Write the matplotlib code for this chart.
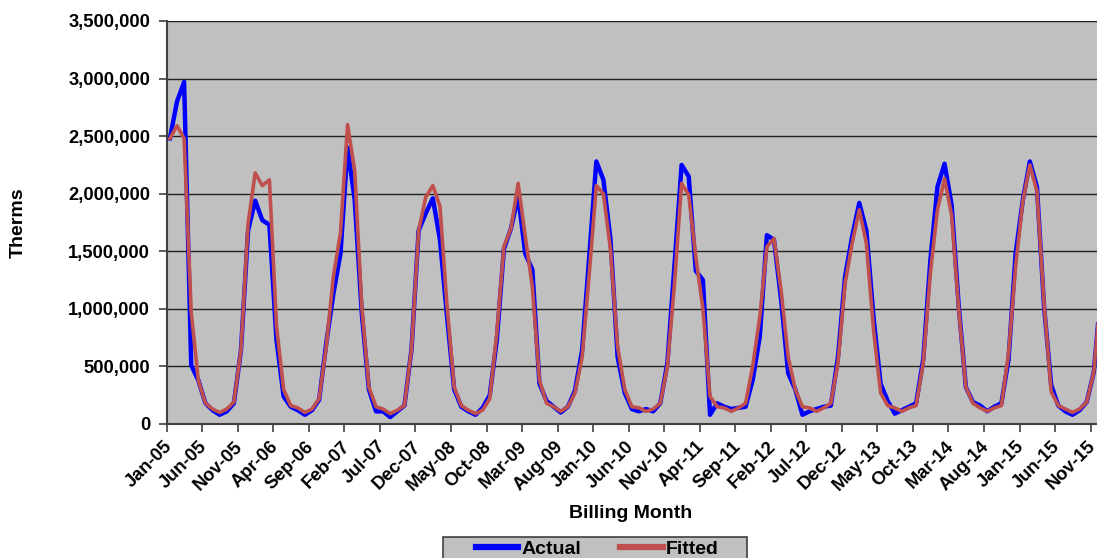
import matplotlib
matplotlib.use("Agg")
import matplotlib.pyplot as plt
from matplotlib.ticker import FuncFormatter, MultipleLocator
from matplotlib.patches import Rectangle
from matplotlib.transforms import ScaledTranslation
import numpy as np

# Monthly billing data, Jan-05 .. Dec-15 (therms)
actual = [2480000, 2800000, 2970000, 510000, 380000, 180000, 120000, 80000, 110000, 180000, 640000, 1680000,
          1940000, 1770000, 1730000, 730000, 240000, 150000, 120000, 80000, 120000, 210000, 700000, 1130000,
          1480000, 2400000, 1950000, 960000, 300000, 110000, 110000, 60000, 110000, 160000, 650000, 1680000,
          1830000, 1960000, 1600000, 930000, 300000, 150000, 110000, 80000, 140000, 250000, 730000, 1520000,
          1700000, 1980000, 1480000, 1340000, 350000, 200000, 150000, 100000, 150000, 290000, 640000, 1450000,
          2280000, 2120000, 1600000, 580000, 270000, 130000, 110000, 130000, 110000, 180000, 530000, 1380000,
          2250000, 2150000, 1330000, 1250000, 80000, 180000, 150000, 130000, 140000, 150000, 380000, 760000,
          1640000, 1600000, 1080000, 440000, 300000, 80000, 110000, 130000, 150000, 160000, 580000, 1280000,
          1630000, 1920000, 1680000, 930000, 350000, 200000, 90000, 120000, 150000, 180000, 560000, 1420000,
          2060000, 2260000, 1900000, 1020000, 320000, 190000, 160000, 110000, 150000, 180000, 560000, 1480000,
          1940000, 2280000, 2060000, 1020000, 340000, 160000, 110000, 80000, 120000, 190000, 450000, 1150000]

fitted = [2480000, 2590000, 2480000, 970000, 380000, 180000, 130000, 100000, 130000, 190000, 640000, 1740000,
          2180000, 2070000, 2120000, 850000, 300000, 160000, 140000, 100000, 130000, 220000, 670000, 1280000,
          1660000, 2600000, 2200000, 1020000, 320000, 150000, 130000, 90000, 120000, 160000, 650000, 1680000,
          1970000, 2070000, 1890000, 1020000, 320000, 160000, 120000, 90000, 120000, 220000, 790000, 1540000,
          1700000, 2090000, 1630000, 1190000, 380000, 180000, 150000, 110000, 150000, 270000, 580000, 1300000,
          2070000, 2000000, 1510000, 670000, 300000, 150000, 140000, 110000, 130000, 180000, 500000, 1220000,
          2090000, 1990000, 1450000, 1000000, 240000, 150000, 140000, 110000, 140000, 180000, 500000, 930000,
          1540000, 1610000, 1160000, 580000, 300000, 150000, 140000, 110000, 140000, 180000, 530000, 1220000,
          1570000, 1860000, 1570000, 820000, 270000, 160000, 140000, 110000, 140000, 160000, 530000, 1310000,
          1860000, 2130000, 1810000, 990000, 320000, 180000, 140000, 110000, 140000, 160000, 610000, 1370000,
          1930000, 2250000, 2020000, 1050000, 280000, 160000, 130000, 100000, 130000, 190000, 450000, 1150000]

tick_labels = ["Jan-05", "Jun-05", "Nov-05", "Apr-06", "Sep-06", "Feb-07", "Jul-07", "Dec-07", "May-08",
               "Oct-08", "Mar-09", "Aug-09", "Jan-10", "Jun-10", "Nov-10", "Apr-11", "Sep-11", "Feb-12",
               "Jul-12", "Dec-12", "May-13", "Oct-13", "Mar-14", "Aug-14", "Jan-15", "Jun-15", "Nov-15"]

plt.rcParams['font.family'] = ['Liberation Sans', 'DejaVu Sans']
plt.rcParams['font.weight'] = 'bold'

W, H = 1097, 558
fig = plt.figure(figsize=(W / 100, H / 100), dpi=100)
ax = fig.add_axes([166.7 / W, 1 - 424 / H, 1 - 166.7 / W, (424 - 21) / H])
ax.set_facecolor('#c0c0c0')

# data dated mid-month on a month-start date axis
x = np.arange(len(actual)) + 0.45
ax.plot(x, actual, color='#0000ff', lw=3.2, solid_joinstyle='round', label='Actual', zorder=3)
ax.plot(x, fitted, color='#c0504d', lw=2.6, solid_joinstyle='round', label='Fitted', zorder=4)

ax.set_xlim(0, 130.9)
ax.set_ylim(0, 3500000)
ax.yaxis.set_major_locator(MultipleLocator(500000))
ax.yaxis.set_major_formatter(FuncFormatter(lambda v, p: f"{int(v):,}"))
ax.grid(axis='y', color='#202020', lw=1.0, zorder=1)
ax.set_axisbelow(True)

tick_pos = np.arange(len(tick_labels)) * 5
ax.set_xticks(tick_pos)
ax.set_xticklabels(tick_labels, rotation=45, ha='right', va='top', rotation_mode='anchor')

for s in ['top', 'right']:
    ax.spines[s].set_visible(False)
for s in ['left', 'bottom']:
    ax.spines[s].set_color('#404040')
    ax.spines[s].set_linewidth(1.5)
ax.tick_params(axis='both', direction='out', length=6, width=1.2, color='#404040',
               labelsize=13.2)
ax.tick_params(axis='y', pad=6)
ax.tick_params(axis='x', pad=4)
shift = ScaledTranslation(-3.5 / 100, 0, fig.dpi_scale_trans)
for lab in ax.get_xticklabels():
    lab.set_fontweight('bold')
    lab.set_transform(lab.get_transform() + shift)
for lab in ax.get_yticklabels():
    lab.set_fontweight('bold')

fig.text(18 / W, 1 - 222.5 / H, 'Therms', rotation=90, ha='center', va='center',
         fontsize=14, fontweight='bold')
fig.text(631 / W, 1 - 514 / H, 'Billing Month', ha='center', va='center',
         fontsize=14, fontweight='bold')

# legend box (extends past the bottom edge, as in the reference)
fig.patches.append(Rectangle((443 / W, -0.05), (747 - 443) / W, 0.05 + 1 - 537 / H,
                             transform=fig.transFigure, facecolor='#c0c0c0',
                             edgecolor='#404040', linewidth=1.2, zorder=0))
leg = fig.legend(loc='center', bbox_to_anchor=(597 / W, 1 - 549 / H), ncol=2,
                 prop={'weight': 'bold', 'size': 14}, frameon=False,
                 borderpad=0, handlelength=2.2, handletextpad=0.15, columnspacing=2.0,
                 borderaxespad=0)
for line in leg.get_lines():
    line.set_linewidth(4.5)

fig.savefig('out.png', dpi=100)
